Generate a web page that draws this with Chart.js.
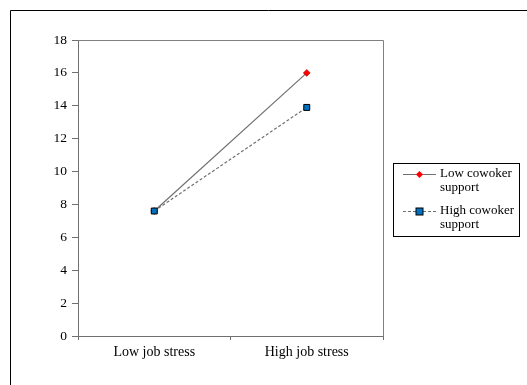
<!DOCTYPE html>
<html>
<head>
<meta charset="utf-8">
<script src="https://cdn.jsdelivr.net/npm/chart.js@4/dist/chart.umd.min.js"></script>
<style>
    html, body { margin: 0; padding: 0; background: #fff; }
    #wrap { position: relative; width: 527px; height: 385px; }
</style>
</head>
<body>
<div id="wrap"><canvas id="chart" width="527" height="385"></canvas></div>
<script>
const categories = ["Low job stress", "High job stress"];
const lowSupport = [7.6, 16.0];
const highSupport = [7.6, 13.9];
const seriesNames = [["Low cowoker", "support"], ["High cowoker", "support"]];
const yTicks = { min: 0, max: 18, step: 2 };

const FONT = "'Liberation Serif', 'Times New Roman', serif";

// outer frame + grey plot border
const framePlugin = {
    id: "frame",
    beforeDraw(chart) {
        const ctx = chart.ctx;
        ctx.save();
        ctx.fillStyle = "#fff";
        ctx.fillRect(0, 0, chart.width, chart.height);
        ctx.strokeStyle = "#000";
        ctx.lineWidth = 1;
        ctx.beginPath();
        ctx.moveTo(10.5, chart.height);
        ctx.lineTo(10.5, 10.5);
        ctx.lineTo(chart.width, 10.5);
        ctx.stroke();
        ctx.restore();
    },
    afterDatasetsDraw(chart) {
        const a = chart.chartArea;
        const ctx = chart.ctx;
        ctx.save();
        ctx.strokeStyle = "#808080";
        ctx.lineWidth = 1;
        ctx.beginPath();
        ctx.moveTo(Math.round(a.left) + 0.5, Math.round(a.top) + 0.5);
        ctx.lineTo(Math.round(a.right) + 0.5, Math.round(a.top) + 0.5);
        ctx.lineTo(Math.round(a.right) + 0.5, Math.round(a.bottom) + 0.5);
        ctx.stroke();
        ctx.restore();
    }
};

// legend box at the right
const legendPlugin = {
    id: "boxLegend",
    afterDraw(chart) {
        const ctx = chart.ctx;
        const x = 393, y = 163, w = 126, h = 73;
        ctx.save();
        ctx.strokeStyle = "#000";
        ctx.lineWidth = 1;
        ctx.strokeRect(x + 0.5, y + 0.5, w, h);
        ctx.font = "13px " + FONT;
        ctx.fillStyle = "#000";
        ctx.textBaseline = "middle";
        chart.data.datasets.forEach((ds, i) => {
            const ly = y + 11 + i * 37;
            ctx.strokeStyle = "#707070";
            ctx.lineWidth = 1.2;
            ctx.setLineDash(ds.borderDash || []);
            ctx.beginPath();
            ctx.moveTo(x + 10, ly + 0.5);
            ctx.lineTo(x + 43, ly + 0.5);
            ctx.stroke();
            ctx.setLineDash([]);
            ctx.lineWidth = 1;
            ctx.fillStyle = ds.pointBackgroundColor;
            ctx.strokeStyle = ds.pointBorderColor;
            if (ds.pointStyle === "rect") {
                ctx.fillRect(x + 23, ly - 3, 7, 7);
                ctx.strokeRect(x + 23, ly - 3, 7, 7);
            } else {
                ctx.beginPath();
                ctx.moveTo(x + 26.5, ly - 3);
                ctx.lineTo(x + 30, ly + 0.5);
                ctx.lineTo(x + 26.5, ly + 4);
                ctx.lineTo(x + 23, ly + 0.5);
                ctx.closePath();
                ctx.fill();
            }
            ctx.fillStyle = "#000";
            ctx.fillText(seriesNames[i][0], x + 47, ly);
            ctx.fillText(seriesNames[i][1], x + 47, ly + 14);
        });
        ctx.restore();
    }
};

new Chart(document.getElementById("chart"), {
    type: "line",
    data: {
        labels: categories,
        datasets: [
            {
                label: seriesNames[0].join(" "),
                data: lowSupport,
                order: 1,
                borderColor: "#707070",
                borderWidth: 1.2,
                pointStyle: "rectRot",
                pointRadius: 3.5,
                pointBackgroundColor: "#ff0000",
                pointBorderColor: "#a00000",
                pointBorderWidth: 0.5,
                tension: 0
            },
            {
                label: seriesNames[1].join(" "),
                data: highSupport,
                order: 0,
                borderColor: "#707070",
                borderWidth: 1.2,
                borderDash: [3, 2],
                pointStyle: "rect",
                pointRadius: 4.2,
                pointBackgroundColor: "#0070c0",
                pointBorderColor: "#000",
                pointBorderWidth: 1,
                tension: 0
            }
        ]
    },
    options: {
        responsive: false,
        animation: false,
        layout: { padding: { left: 0, top: 40, right: 144, bottom: 0 } },
        plugins: {
            legend: { display: false },
            tooltip: { enabled: false }
        },
        scales: {
            x: {
                offset: true,
                afterFit(scale) { scale.height = 49; },
                border: { color: "#707070", width: 1 },
                grid: { drawOnChartArea: false, tickLength: 4, color: "#707070", offset: true },
                ticks: { color: "#000", font: { family: FONT, size: 14 }, padding: 4 }
            },
            y: {
                min: yTicks.min,
                max: yTicks.max,
                afterFit(scale) { scale.width = 78; },
                border: { color: "#707070", width: 1 },
                grid: { drawOnChartArea: false, tickLength: 6, color: "#707070" },
                ticks: { stepSize: yTicks.step, color: "#000", font: { family: FONT, size: 13.5 }, padding: 5 }
            }
        }
    },
    plugins: [framePlugin, legendPlugin]
});
</script>
</body>
</html>
